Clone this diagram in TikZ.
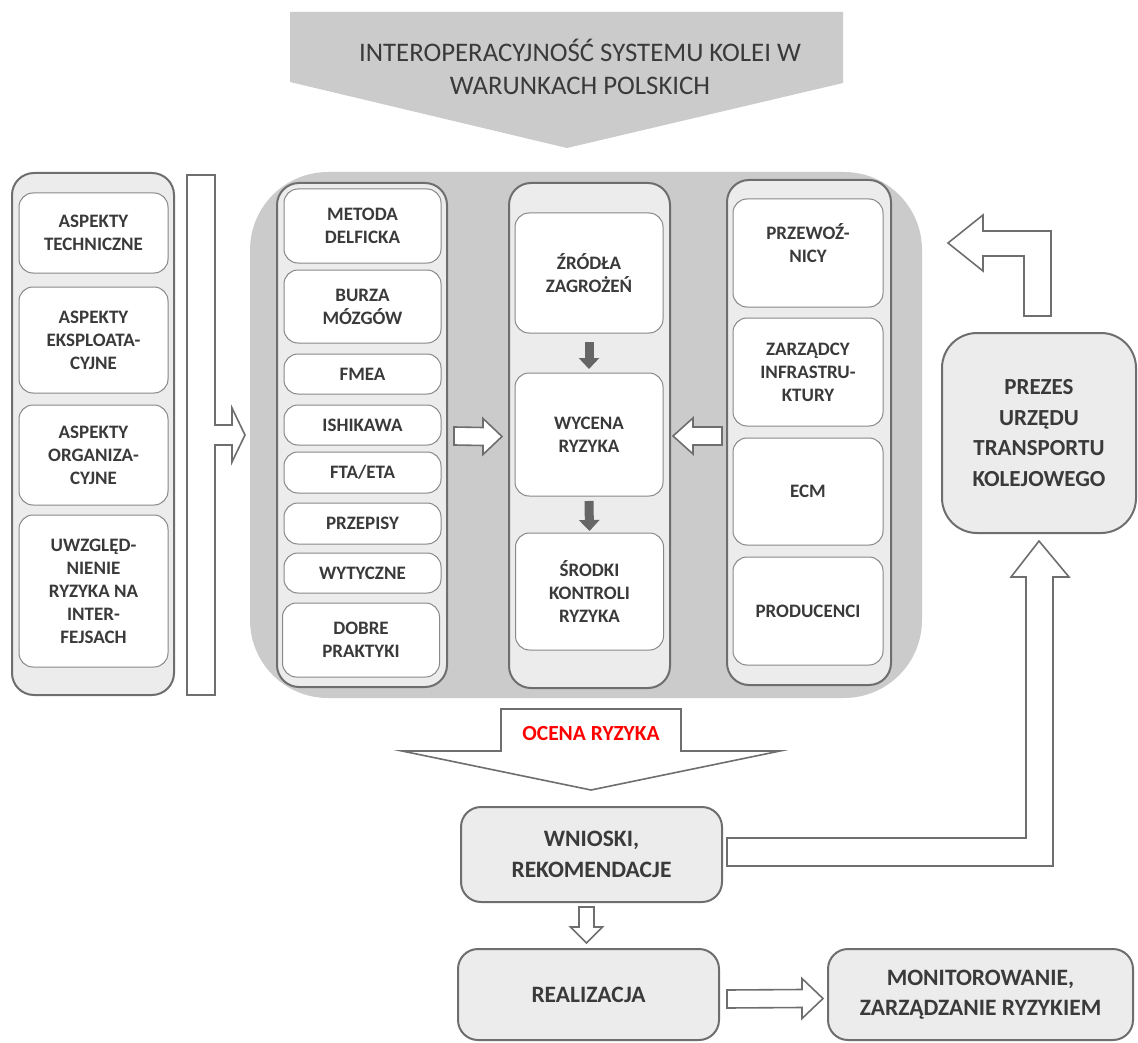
\documentclass[tikz,border=0pt]{standalone}
\usepackage{fontspec}
\setmainfont{Carlito}
\usetikzlibrary{calc,arrows.meta}
\definecolor{edge}{HTML}{6E6E6E}
\definecolor{thinedge}{HTML}{888888}
\definecolor{dotfill}{HTML}{ECECEC}
\definecolor{hatch}{HTML}{CBCBCB}
\definecolor{ink}{HTML}{3A3A3A}
\definecolor{darkarrow}{HTML}{666666}
\definecolor{alert}{HTML}{FF0000}
\tikzset{
  panel/.style={draw=edge, line width=2pt, fill=dotfill, rounded corners=22pt,
    inner sep=0pt, outer sep=0pt},
  ibox/.style={draw=thinedge, line width=1pt, fill=white, rounded corners=14pt,
    inner sep=0pt, outer sep=0pt, align=center, text=ink,
    font=\fontsize{19}{23}\selectfont\bfseries},
  bigbox/.style={draw=edge, line width=2pt, fill=dotfill, rounded corners=20pt,
    inner sep=0pt, outer sep=0pt, align=center, text=ink,
    font=\fontsize{23.5}{30.5}\selectfont\bfseries},
  blockarrow/.style={draw=edge, line width=1.6pt, fill=white, line join=miter},
  solidarrow/.style={darkarrow, line width=9pt,
    -{Triangle[width=20pt,length=11pt]}},
}
\begin{document}
\begin{tikzpicture}[x=1pt,y=-1pt]
\useasboundingbox (0,0) rectangle (1138,1043);

% title banner
\fill[hatch] (290,12) -- (843,12) -- (843,83) -- (567,148) -- (290,82) -- cycle;
\node[font=\fontsize{26.8}{33}\selectfont, text=ink, align=center] (title)
  at (580,67) {INTEROPERACYJNOŚĆ SYSTEMU KOLEI W\\WARUNKACH POLSKICH};

% aspects column
\node[panel, minimum width=162pt, minimum height=522pt] (lp) at (93,434) {};
\node[ibox, minimum width=149pt, minimum height=80pt]  (a1) at (93.5,233) {ASPEKTY\\TECHNICZNE};
\node[ibox, minimum width=149pt, minimum height=106pt] (a2) at (93.5,340) {ASPEKTY\\EKSPLOATA-\\CYJNE};
\node[ibox, minimum width=149pt, minimum height=100pt] (a3) at (93.5,455) {ASPEKTY\\ORGANIZA-\\CYJNE};
\node[ibox, minimum width=149pt, minimum height=152pt] (a4) at (93.5,591) {UWZGLĘD-\\NIENIE\\RYZYKA NA\\INTER-\\FEJSACH};

% bent arrow from the aspects into the assessment area
\draw[blockarrow] (187,175) -- (215,175) -- (215,425) -- (232,425) -- (232,408)
  -- (245,435) -- (232,462) -- (232,445) -- (215,445) -- (215,695) -- (187,695) -- cycle;

% assessment area
\node[fill=hatch, rounded corners=78pt, minimum width=672pt, minimum height=526pt,
  inner sep=0pt] (bg) at (586,435) {};

% methods
\node[panel, minimum width=170pt, minimum height=504pt] (c1) at (362,435) {};
\node[ibox, minimum width=157pt, minimum height=74pt] (m1) at (362.5,226)   {METODA\\DELFICKA};
\node[ibox, minimum width=157pt, minimum height=73pt] (m2) at (362.5,306.5) {BURZA\\MÓZGÓW};
\node[ibox, minimum width=157pt, minimum height=40pt] (m3) at (362.5,374)   {FMEA};
\node[ibox, minimum width=157pt, minimum height=40pt] (m4) at (362.5,425)   {ISHIKAWA};
\node[ibox, minimum width=157pt, minimum height=41pt] (m5) at (362.5,472.5) {FTA/ETA};
\node[ibox, minimum width=157pt, minimum height=41pt] (m6) at (362.5,523.5) {PRZEPISY};
\node[ibox, minimum width=157pt, minimum height=40pt] (m7) at (362.5,573)   {WYTYCZNE};
\node[ibox, minimum width=157pt, minimum height=74pt] (m8) at (361,640)     {DOBRE\\PRAKTYKI};

% risk evaluation chain
\node[panel, minimum width=161pt, minimum height=505pt] (c2) at (589.5,435.5) {};
\node[ibox, minimum width=148pt, minimum height=120pt] (z1) at (589,273)   {ŹRÓDŁA\\ZAGROŻEŃ};
\node[ibox, minimum width=148pt, minimum height=123pt] (z2) at (589,434.5) {WYCENA\\RYZYKA};
\node[ibox, minimum width=148pt, minimum height=117pt] (z3) at (589.5,591.5) {ŚRODKI\\KONTROLI\\RYZYKA};
\draw[solidarrow] ($(z1.south)+(0,9)$) -- ($(z2.north)+(0,-4)$);
\draw[solidarrow] ($(z2.south)+(0,5)$) -- ($(z3.north)+(0,-2)$);

% railway actors
\node[panel, minimum width=164pt, minimum height=505pt] (c3) at (809,432.5) {};
\node[ibox, minimum width=150pt, minimum height=108pt] (p1) at (808,253)   {PRZEWOŹ-\\NICY\\[-3pt]};
\node[ibox, minimum width=150pt, minimum height=108pt] (p2) at (808,372)   {ZARZĄDCY\\INFRASTRU-\\KTURY};
\node[ibox, minimum width=150pt, minimum height=107pt] (p3) at (808,491.5) {ECM};
\node[ibox, minimum width=150pt, minimum height=108pt] (p4) at (808,611)   {PRODUCENCI};

% arrows into the evaluation column
\coordinate (r1s) at ($(c1.east)+(7,1)$);
\coordinate (r1t) at ($(c2.west)+(-7,1)$);
\draw[blockarrow] ($(r1s)+(0,-9)$) -- ($(r1t)+(-19,-9)$) -- ($(r1t)+(-19,-18)$) -- (r1t)
  -- ($(r1t)+(-19,18)$) -- ($(r1t)+(-19,9)$) -- ($(r1s)+(0,9)$) -- cycle;
\coordinate (l1s) at ($(c3.west)+(-5,3.5)$);
\coordinate (l1t) at ($(c2.east)+(3,0.5)$);
\draw[blockarrow] ($(l1s)+(0,-9)$) -- ($(l1t)+(20,-9)$) -- ($(l1t)+(20,-18)$) -- (l1t)
  -- ($(l1t)+(20,18)$) -- ($(l1t)+(20,9)$) -- ($(l1s)+(0,9)$) -- cycle;

% rail authority
\node[bigbox, rounded corners=35pt, minimum width=194pt, minimum height=200pt,
  font=\fontsize{23}{30.5}\selectfont\bfseries] (pr) at (1039,433)
  {PREZES\\URZĘDU\\TRANSPORTU\\KOLEJOWEGO};

% bent arrow from the authority back to the actors
\draw[blockarrow] ($(pr.north)+(-15,-17)$) -- ($(pr.north)+(-15,-77)$) -- (983,256)
  -- (983,271) -- (948,243) -- (983,215) -- (983,231) -- ($(pr.north)+(12,-102)$)
  -- ($(pr.north)+(12,-17)$) -- cycle;

% risk assessment outcome
\draw[blockarrow] (501,709) -- (681,709) -- (681,751) -- (780,751) -- (591,790)
  -- (402,751) -- (501,751) -- cycle;
\node[text=alert, font=\fontsize{21.5}{24}\selectfont\bfseries] (ocena) at (591,734) {OCENA RYZYKA};

\node[bigbox, minimum width=261pt, minimum height=95pt] (wn) at (591.5,854.5) {WNIOSKI,\\REKOMENDACJE};
\node[bigbox, minimum width=261pt, minimum height=91pt] (re) at (588.5,994.5) {REALIZACJA};
\node[bigbox, minimum width=305pt, minimum height=91pt] (mo) at (980.5,994.5) {MONITOROWANIE,\\ZARZĄDZANIE RYZYKIEM};

% conclusions to the authority
\coordinate (wt) at ($(pr.south)+(0,8)$);
\draw[blockarrow] ($(wn.east)+(5,-16.5)$) -- ($(wt)+(-13,297)$) -- ($(wt)+(-13,36)$)
  -- ($(wt)+(-28,36)$) -- (wt) -- ($(wt)+(30,36)$) -- ($(wt)+(14,36)$)
  -- ($(wt)+(14,325)$) -- ($(wn.east)+(5,11.5)$) -- cycle;

% conclusions to implementation
\coordinate (ds) at ($(wn.south)+(-5,5)$);
\coordinate (dt) at ($(re.north)+(-2,-6)$);
\draw[blockarrow] ($(ds)+(-7.5,0)$) -- ($(dt)+(-7.5,-16)$) -- ($(dt)+(-16,-16)$) -- (dt)
  -- ($(dt)+(16,-16)$) -- ($(dt)+(7.5,-16)$) -- ($(ds)+(7.5,0)$) -- cycle;

% implementation to monitoring
\coordinate (hs) at ($(re.east)+(8,4.5)$);
\coordinate (ht) at ($(mo.west)+(-5,4)$);
\draw[blockarrow] ($(hs)+(0,-9)$) -- ($(ht)+(-21,-9)$) -- ($(ht)+(-21,-20)$) -- (ht)
  -- ($(ht)+(-21,20)$) -- ($(ht)+(-21,9)$) -- ($(hs)+(0,9)$) -- cycle;
\end{tikzpicture}
\end{document}
